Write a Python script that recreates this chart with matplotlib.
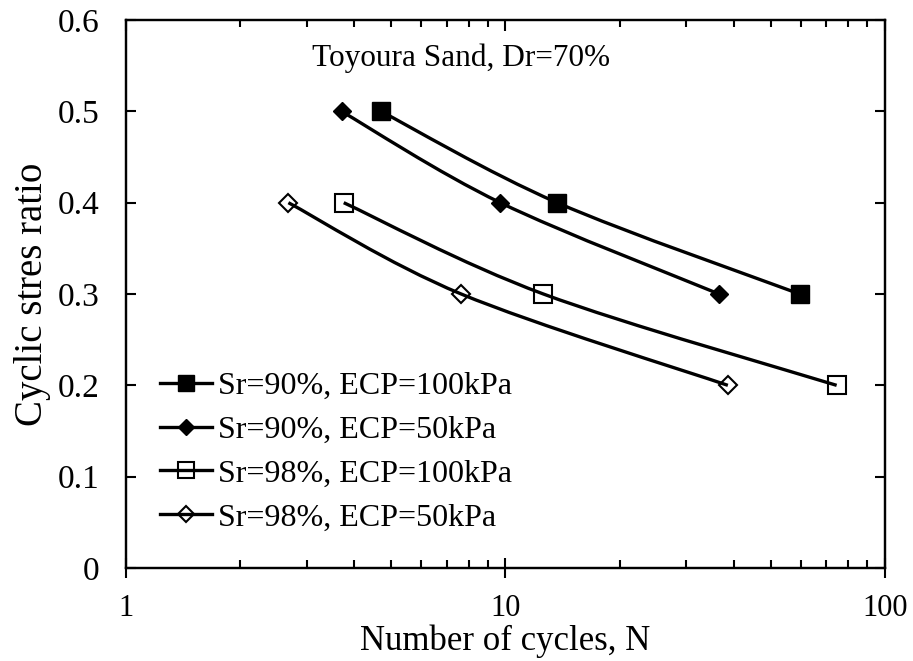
import numpy as np
import matplotlib.pyplot as plt
from matplotlib.path import Path
from matplotlib.lines import Line2D

plt.rcParams['font.family'] = ['Liberation Serif', 'DejaVu Serif']

# data (N, CSR)
n_sr90_100 = [4.7, 13.7, 59.7]
csr_sr90_100 = [0.5, 0.4, 0.3]
n_sr90_50 = [3.7, 9.7, 36.6]
csr_sr90_50 = [0.5, 0.4, 0.3]
n_sr98_100 = [3.75, 12.6, 74.7]
csr_sr98_100 = [0.4, 0.3, 0.2]
n_sr98_50 = [2.68, 7.65, 38.6]
csr_sr98_50 = [0.4, 0.3, 0.2]

labels = ["Sr=90%, ECP=100kPa", "Sr=90%, ECP=50kPa",
          "Sr=98%, ECP=100kPa", "Sr=98%, ECP=50kPa"]

fig = plt.figure(figsize=(9.13, 6.61), dpi=100)
ax = fig.add_axes([0.138, 0.1407, 0.831, 0.829])
ax.set_xscale('log')
ax.set_xlim(1, 100)
ax.set_ylim(0, 0.6)

LW = 2.4


def smooth_line(ax, x, y, lw=LW):
    # excel-like smoothed line: catmull-rom bezier in display space
    pts = ax.transData.transform(np.column_stack([x, y]))
    p = np.vstack([pts[0], pts, pts[-1]])
    verts = [tuple(pts[0])]
    codes = [Path.MOVETO]
    for i in range(1, len(p) - 2):
        c1 = p[i] + (p[i + 1] - p[i - 1]) / 6
        c2 = p[i + 1] - (p[i + 2] - p[i]) / 6
        verts += [tuple(c1), tuple(c2), tuple(p[i + 1])]
        codes += [Path.CURVE4] * 3
    disp = Path(np.array(verts), codes).to_polygons(closed_only=False)[0]
    dat = ax.transData.inverted().transform(disp)
    ax.plot(dat[:, 0], dat[:, 1], color='black', lw=lw, zorder=2,
            solid_capstyle='butt')


series = [
    (n_sr90_100, csr_sr90_100, 's', 'black', 13.5, 1.0),
    (n_sr90_50, csr_sr90_50, 'D', 'black', 9.5, 1.0),
    (n_sr98_100, csr_sr98_100, 's', 'none', 13.0, 1.5),
    (n_sr98_50, csr_sr98_50, 'D', 'none', 9.5, 1.5),
]

handles = []
for (x, y, m, fc, ms, mew), lab in zip(series, labels):
    smooth_line(ax, x, y)
    ax.plot(x, y, ls='none', marker=m, ms=ms, mfc=fc, mec='black', mew=mew, zorder=3)
    handles.append(Line2D([], [], color='black', lw=LW, marker=m, ms=ms * 0.88,
                          mfc=fc, mec='black', mew=mew, label=lab))

ax.legend(handles=handles, loc='upper left', bbox_to_anchor=(0.045, 0.358),
          frameon=False, fontsize=23, handlelength=1.63, handletextpad=0.18,
          labelspacing=0.45, borderaxespad=0, borderpad=0)

ax.text(0.245, 0.93, "Toyoura Sand, Dr=70%", transform=ax.transAxes,
        fontsize=22.5, ha='left', va='center')

ax.set_yticks([0, 0.1, 0.2, 0.3, 0.4, 0.5, 0.6])
ax.set_yticklabels(['0', '0.1', '0.2', '0.3', '0.4', '0.5', '0.6'])
ax.set_xticks([1, 10, 100])
ax.set_xticklabels(['1', '10', '100'])
ax.tick_params(axis='both', which='both', direction='in', right=True,
               labelsize=24, width=1.5)
ax.tick_params(axis='y', which='major', length=7, pad=19)
ax.tick_params(axis='x', which='major', direction='inout', length=15, pad=11,
               labelsize=22)
ax.tick_params(axis='x', which='minor', length=6)

# top axis: inward ticks only
top = ax.twiny()
top.set_xscale('log')
top.set_xlim(1, 100)
top.set_xticks([1, 10, 100])
top.tick_params(axis='x', which='both', direction='in', labeltop=False,
                width=1.5)
top.tick_params(axis='x', which='major', length=8)
top.tick_params(axis='x', which='minor', length=5)

for a in (ax, top):
    for s in a.spines.values():
        s.set_linewidth(1.6)

ax.set_xlabel("Number of cycles, N", fontsize=25, labelpad=1)
ax.set_ylabel("Cyclic stres ratio", fontsize=28, labelpad=5)

fig.savefig("out.png", dpi=100)
